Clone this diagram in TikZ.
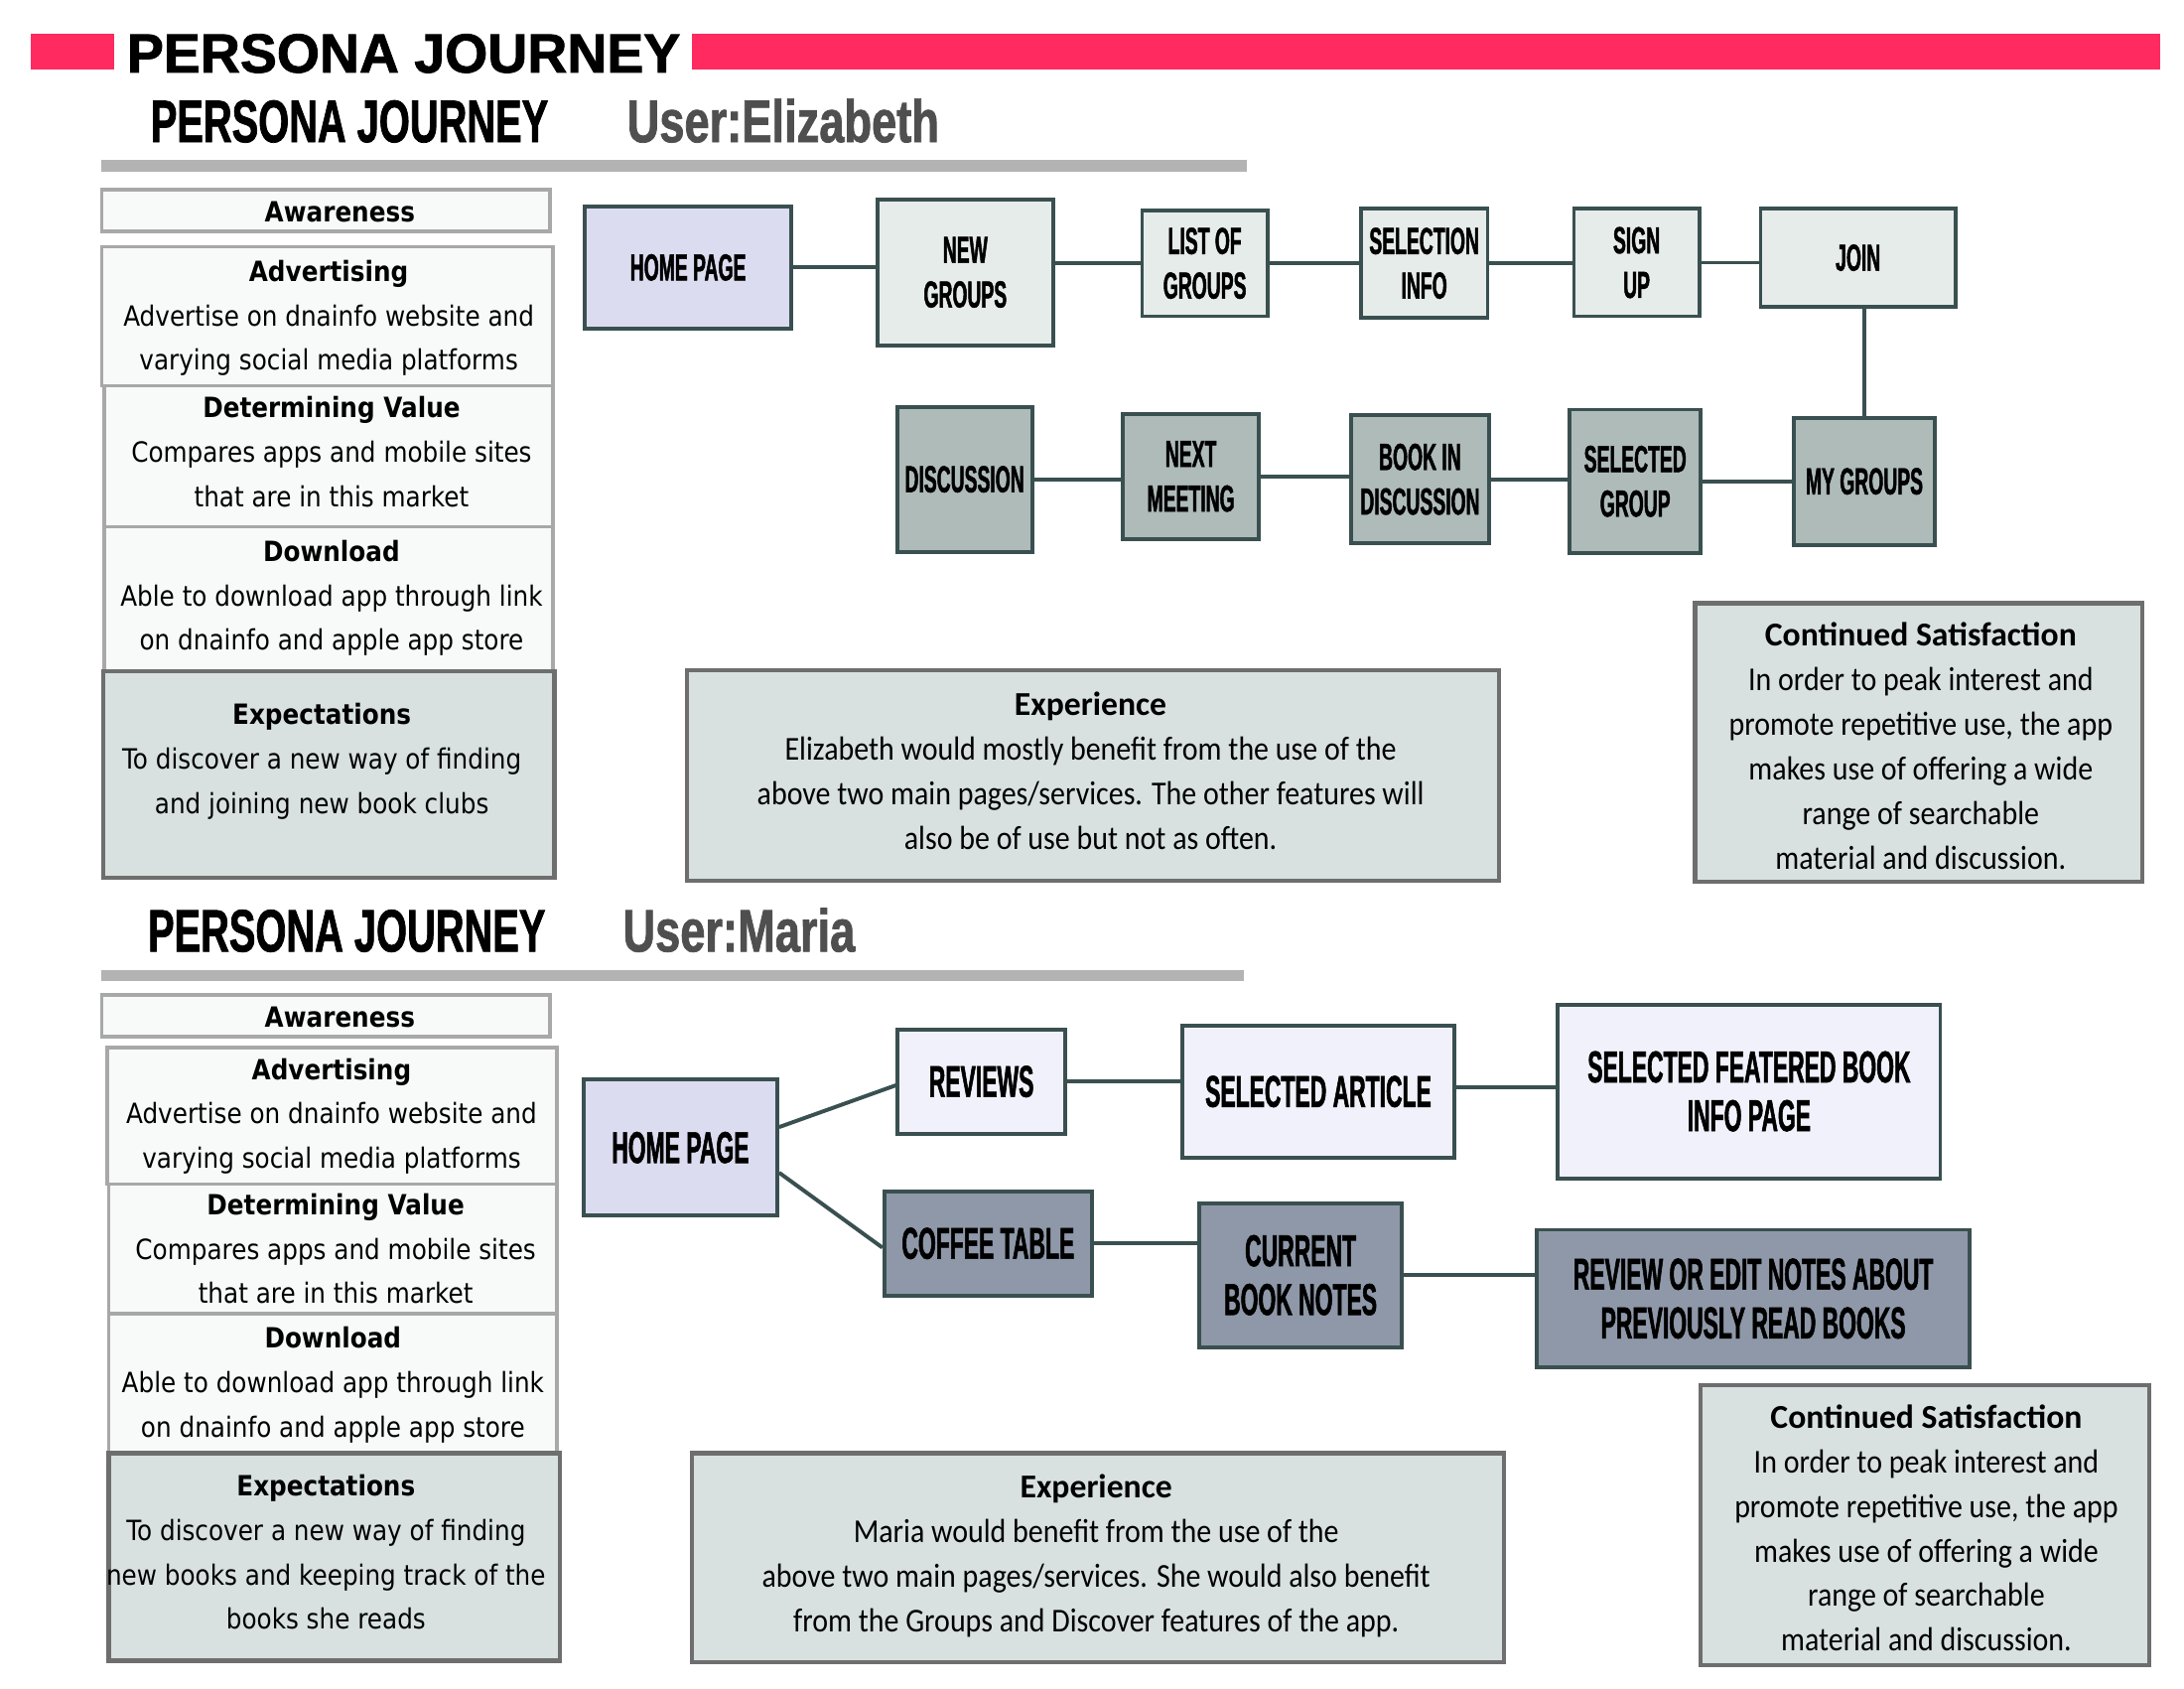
\documentclass[tikz,border=0pt]{standalone}
\usepackage{fontspec}
\setmainfont{Liberation Sans}
\newfontfamily\titlefont{Liberation Sans}[FakeBold=1.5]
\newfontfamily\hdrfont{Liberation Sans}[FakeStretch=0.66,FakeBold=1.2]
\newfontfamily\userfont{Liberation Sans}[FakeStretch=0.75,FakeBold=1.2]
\newfontfamily\boxfont{Liberation Sans}[FakeStretch=0.51,FakeBold=1.2]
\newfontfamily\leftfont{DejaVu Sans}[FakeStretch=0.88]
\newfontfamily\expfont{Carlito}[FakeStretch=0.89]
\newfontfamily\exptitlefont{Carlito}
\definecolor{pinkbar}{HTML}{FF2A60}
\definecolor{rulegray}{HTML}{B3B3B3}
\definecolor{usergray}{HTML}{4F4F4F}
\definecolor{lfill}{HTML}{F8FAFA}
\definecolor{lborder}{HTML}{A8A8A8}
\definecolor{efill}{HTML}{D8E0E0}
\definecolor{eborder}{HTML}{6E6E6E}
\definecolor{flowborder}{HTML}{3A5050}
\definecolor{homefill}{HTML}{DCDCF0}
\definecolor{lightfill}{HTML}{E6ECEA}
\definecolor{midfill}{HTML}{AEBBB9}
\definecolor{palefill}{HTML}{F1F1FB}
\definecolor{bluefill}{HTML}{8E98A8}
\tikzset{
  hdr/.style={anchor=base west, inner sep=0pt, font=\hdrfont\bfseries\fontsize{43}{44}\selectfont},
  usr/.style={anchor=base west, inner sep=0pt, text=usergray, font=\userfont\bfseries\fontsize{43}{44}\selectfont},
  lbox/.style={draw=lborder, fill=lfill, line width=2.5pt, inner sep=0pt},
  xbox/.style={draw=eborder, fill=efill, line width=3pt, inner sep=0pt},
  ltext/.style={inner sep=0pt, align=center, font=\leftfont\fontsize{20}{32}\selectfont,
    execute at begin node=\strut, execute at end node=\strut},
  etext/.style={inner sep=0pt, align=center, font=\expfont\fontsize{24}{32}\selectfont,
    execute at begin node=\strut, execute at end node=\strut},
  flow/.style={draw=flowborder, line width=2.8pt, inner sep=0pt, align=center,
    font=\boxfont\bfseries\fontsize{27}{32}\selectfont},
  flowbig/.style={flow, font=\boxfont\bfseries\fontsize{32}{35}\selectfont},
  conn/.style={draw=flowborder, line width=2.8pt},
}
\newcommand{\lt}[1]{{\bfseries #1}}
\newcommand{\et}[1]{{\exptitlefont\bfseries #1}}
\begin{document}
\begin{tikzpicture}[x=1pt, y=-1pt]
\useasboundingbox (0,0) rectangle (1568,1212);
\fill[white] (0,0) rectangle (1568,1212);

% ---------- top header ----------
\fill[pinkbar] (22,24) rectangle (82,50);
\fill[pinkbar] (497,24) rectangle (1551,50);
\node[anchor=base west, inner sep=0pt, font=\titlefont\bfseries\fontsize{39.5}{40}\selectfont] (title) at (91,52) {PERSONA JOURNEY};

% ---------- section 1 ----------
\node[hdr] (pj1) at (108,102) {PERSONA JOURNEY};
\node[usr] (u1) at (450,102) {User:Elizabeth};
\fill[rulegray] (73,115) rectangle (895,123);

\node[lbox, minimum width=322pt, minimum height=30pt] (aw1) at (234,151) {};
\node[lbox, minimum width=324pt, minimum height=100pt] (adv1) at (235,227) {};
\node[lbox, minimum width=322pt, minimum height=101pt] (det1) at (236,327.5) {};
\node[lbox, minimum width=322pt, minimum height=104pt] (dl1) at (236,430) {};
\node[xbox, minimum width=324pt, minimum height=148pt] (exq1) at (236,556) {};

\node[ltext] (aw1t) at (244,153) {\lt{Awareness}};
\node[ltext] (adv1t) at (236,231) {\lt{Advertising}\\Advertise on dnainfo website and\\varying social media platforms};
\node[ltext] (det1t) at (238,329) {\lt{Determining Value}\\Compares apps and mobile sites\\that are in this market};
\node[ltext] (dl1t) at (238,432) {\lt{Download}\\Able to download app through link\\on dnainfo and apple app store};
\node[ltext] (exq1t) at (231,549) {\lt{Expectations}\\To discover a new way of finding\\and joining new book clubs};

% flow nodes
\node[flow, fill=homefill, minimum width=148pt, minimum height=88pt] (home1) at (494,192) {HOME PAGE};
\node[flow, fill=lightfill, minimum width=126pt, minimum height=105pt] (newg) at (693,195.5) {NEW\\GROUPS};
\node[flow, fill=lightfill, minimum width=90pt, minimum height=76pt] (listg) at (865,189) {LIST OF\\GROUPS};
\node[flow, fill=lightfill, minimum width=91pt, minimum height=78pt] (seli) at (1022.5,189) {SELECTION\\INFO};
\node[flow, fill=lightfill, minimum width=90pt, minimum height=77pt] (sign) at (1175,188.5) {SIGN\\UP};
\node[flow, fill=lightfill, minimum width=140pt, minimum height=70pt] (join) at (1334,185) {JOIN};
\node[flow, fill=midfill, minimum width=97pt, minimum height=104pt] (disc) at (692.5,344) {DISCUSSION};
\node[flow, fill=midfill, minimum width=98pt, minimum height=90pt] (next) at (855,342) {NEXT\\MEETING};
\node[flow, fill=midfill, minimum width=99pt, minimum height=92pt] (bookd) at (1019.5,344) {BOOK IN\\DISCUSSION};
\node[flow, fill=midfill, minimum width=94pt, minimum height=103pt] (selg) at (1174,345.5) {SELECTED\\GROUP};
\node[flow, fill=midfill, minimum width=101pt, minimum height=91pt] (mygr) at (1338.5,345.5) {MY GROUPS};

\draw[conn] (home1.east) -- (home1.east -| newg.west);
\draw[conn] (listg.west -| newg.east) -- (listg.west);
\draw[conn] (listg.east) -- (listg.east -| seli.west);
\draw[conn] (seli.east) -- (seli.east -| sign.west);
\draw[conn] (sign.east) -- (sign.east -| join.west);
\draw[conn] (join.south -| mygr.north) -- (mygr.north);
\draw[conn] (disc.east) -- (disc.east -| next.west);
\draw[conn] (next.east) -- (next.east -| bookd.west);
\draw[conn] (bookd.east) -- (bookd.east -| selg.west);
\draw[conn] (selg.east) -- (selg.east -| mygr.west);

\node[xbox, minimum width=583pt, minimum height=151pt] (exp1) at (784.5,556.5) {};
\node[etext] (exp1t) at (783,558)
  {\et{Experience}\\Elizabeth would mostly benefit from the use of the\\above two main pages/services. The other features will\\also be of use but not as often.};
\node[xbox, minimum width=321pt, minimum height=200pt] (cont1) at (1377.5,533) {};
\node[etext] (cont1t) at (1379,540)
  {\et{Continued Satisfaction}\\In order to peak interest and\\promote repetitive use, the app\\makes use of offering a wide\\range of searchable\\material and discussion.};

% ---------- section 2 ----------
\node[hdr] (pj2) at (106,683) {PERSONA JOURNEY};
\node[usr] (u2) at (447,683) {User:Maria};
\fill[rulegray] (73,696) rectangle (893,704);

\node[lbox, minimum width=322pt, minimum height=30pt] (aw2) at (234,729) {};
\node[lbox, minimum width=323pt, minimum height=98pt] (adv2) at (238.5,801) {};
\node[lbox, minimum width=322pt, minimum height=93pt] (det2) at (239,896.5) {};
\node[lbox, minimum width=322pt, minimum height=100pt] (dl2) at (239,993) {};
\node[xbox, minimum width=324pt, minimum height=149pt] (exq2) at (240,1117.5) {};

\node[ltext] (aw2t) at (244,731) {\lt{Awareness}};
\node[ltext] (adv2t) at (238,804) {\lt{Advertising}\\Advertise on dnainfo website and\\varying social media platforms};
\node[ltext] (det2t) at (241,901) {\lt{Determining Value}\\Compares apps and mobile sites\\that are in this market};
\node[ltext] (dl2t) at (239,997) {\lt{Download}\\Able to download app through link\\on dnainfo and apple app store};
\node[ltext] (exq2t) at (234,1118.75) {\lt{Expectations}\\To discover a new way of finding\\new books and keeping track of the\\books she reads};

\node[flowbig, fill=homefill, minimum width=139pt, minimum height=97.5pt] (home2) at (488.5,823.75) {HOME PAGE};
\node[flowbig, fill=palefill, minimum width=120pt, minimum height=75pt] (rev) at (704.6,776.3) {REVIEWS};
\node[flowbig, fill=palefill, minimum width=195pt, minimum height=95pt] (selart) at (946.5,783.5) {SELECTED ARTICLE};
\node[flowbig, fill=palefill, minimum width=274.5pt, minimum height=124.7pt] (sfb) at (1255.75,783.35) {SELECTED FEATERED BOOK\\INFO PAGE};
\node[flowbig, fill=bluefill, minimum width=149pt, minimum height=75pt] (coffee) at (709.4,892.5) {COFFEE TABLE};
\node[flowbig, fill=bluefill, minimum width=145.5pt, minimum height=103.4pt] (curr) at (933.75,915.3) {CURRENT\\BOOK NOTES};
\node[flowbig, fill=bluefill, minimum width=310.5pt, minimum height=98.8pt] (reo) at (1258.75,932.1) {REVIEW OR EDIT NOTES ABOUT\\PREVIOUSLY READ BOOKS};

\draw[conn] ([yshift=14.75pt]home2.east) -- ([yshift=-2.7pt]rev.west);
\draw[conn] ([yshift=-18pt]home2.east) -- ([yshift=-3pt]coffee.west);
\draw[conn] (rev.east) -- (rev.east -| selart.west);
\draw[conn] ([yshift=3pt]selart.east) -- ([yshift=3pt]selart.east -| sfb.west);
\draw[conn] (coffee.east) -- (coffee.east -| curr.west);
\draw[conn] (curr.east) -- (curr.east -| reo.west);

\node[xbox, minimum width=583pt, minimum height=150pt] (exp2) at (788.5,1118) {};
\node[etext] (exp2t) at (787,1119.5)
  {\et{Experience}\\Maria would benefit from the use of the\\above two main pages/services. She would also benefit\\from the Groups and Discover features of the app.};
\node[xbox, minimum width=322pt, minimum height=201pt] (cont2) at (1382,1094.5) {};
\node[etext] (cont2t) at (1383,1101.5)
  {\et{Continued Satisfaction}\\In order to peak interest and\\promote repetitive use, the app\\makes use of offering a wide\\range of searchable\\material and discussion.};
\end{tikzpicture}
\end{document}
